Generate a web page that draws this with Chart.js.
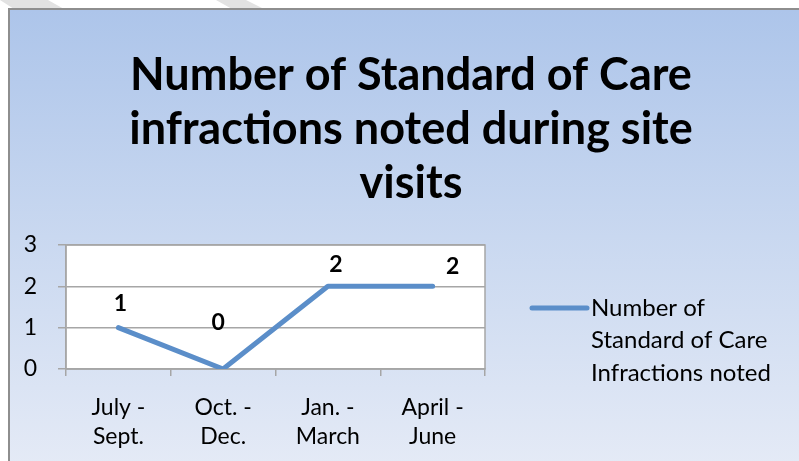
<!DOCTYPE html>
<html>
<head>
<meta charset="utf-8">
<script src="https://cdn.jsdelivr.net/npm/chart.js@4/dist/chart.umd.min.js"></script>
<style>
  body { margin: 0; background: #fff; overflow: hidden; }
  .streak { position: absolute; top: 0; height: 9px; background: #e2e2e2; }
  #box {
    position: absolute; left: 8px; top: 8px; width: 791px; height: 453px;
    border-left: 2px solid #8e8e8e; border-top: 2px solid #8e8e8e;
    background: linear-gradient(to bottom, #adc5ea 0%, #c9d8f0 50%, #e4eaf6 100%);
  }
  #chartCanvas { position: absolute; left: 0; top: 0; }
</style>
</head>
<body>
<div class="streak" style="left:0;width:64px;clip-path:polygon(0 0,48px 0,64px 100%,14px 100%);"></div>
<div class="streak" style="left:216px;width:48px;clip-path:polygon(0 0,30px 0,48px 100%,16px 100%);"></div>
<div id="box"><canvas id="chartCanvas" width="789" height="451"></canvas></div>
<script>
// data
const quarters = [["July -", "Sept."], ["Oct. -", "Dec."], ["Jan. -", "March"], ["April -", "June"]];
const infractions = [1, 0, 2, 2];
const yTicks = [0, 1, 2, 3];
const titleLines = ["Number of Standard of Care", "infractions noted during site", "visits"];
const seriesName = "Number of Standard of Care Infractions noted";
const legendLines = ["Number of", "Standard of Care", "Infractions noted"];

const lineColor = "#5b8ec9";
const fontFamily = "Lato, 'Open Sans', sans-serif";

// where each value label sits relative to its point (px)
const labelOffsets = [[2, -24], [-5, -46], [8, -22], [20, -20]];

// white plot area with a grey frame
const plotBackground = {
  id: "plotBackground",
  beforeDraw: (chart) => {
    const a = chart.chartArea;
    const ctx = chart.ctx;
    ctx.save();
    ctx.fillStyle = "#ffffff";
    ctx.fillRect(a.left, a.top, a.right - a.left, a.bottom - a.top);
    ctx.restore();
  },
  beforeDatasetsDraw: (chart) => {
    const a = chart.chartArea;
    const ctx = chart.ctx;
    ctx.save();
    ctx.strokeStyle = "#a6a6a6";
    ctx.lineWidth = 1.5;
    ctx.strokeRect(a.left, a.top, a.right - a.left, a.bottom - a.top);
    ctx.restore();
  },
};

// title centred on the whole box, not only the plot
const bigTitle = {
  id: "bigTitle",
  afterDraw: (chart) => {
    const ctx = chart.ctx;
    ctx.save();
    ctx.font = "bold 45px " + fontFamily;
    ctx.fillStyle = "#000";
    ctx.textAlign = "center";
    ctx.textBaseline = "middle";
    titleLines.forEach((t, i) => ctx.fillText(t, 401, 65 + i * 54));
    ctx.restore();
  },
};

// value labels above the points
const valueLabels = {
  id: "valueLabels",
  afterDatasetsDraw: (chart) => {
    const ctx = chart.ctx;
    const meta = chart.getDatasetMeta(0);
    ctx.save();
    ctx.font = "bold 23px " + fontFamily;
    ctx.fillStyle = "#000";
    ctx.textAlign = "center";
    ctx.textBaseline = "middle";
    meta.data.forEach((pt, i) => {
      const off = labelOffsets[i];
      ctx.fillText(String(chart.data.datasets[0].data[i]), pt.x + off[0], pt.y + off[1]);
    });
    ctx.restore();
  },
};

// legend on the right, text wrapped over three lines
const sideLegend = {
  id: "sideLegend",
  afterDraw: (chart) => {
    const ctx = chart.ctx;
    const x0 = chart.chartArea.right + 47;
    const y0 = 298;
    ctx.save();
    ctx.strokeStyle = lineColor;
    ctx.lineWidth = 5;
    ctx.lineCap = "round";
    ctx.beginPath();
    ctx.moveTo(x0, y0);
    ctx.lineTo(x0 + 55, y0);
    ctx.stroke();
    ctx.font = "24px " + fontFamily;
    ctx.fillStyle = "#000";
    ctx.textBaseline = "middle";
    legendLines.forEach((t, i) => ctx.fillText(t, x0 + 59, y0 + i * 32.5));
    ctx.restore();
  },
};

const ctx = document.getElementById("chartCanvas").getContext("2d");
const chart = new Chart(ctx, {
  type: "line",
  data: {
    labels: quarters,
    datasets: [{
      label: seriesName,
      data: infractions,
      borderColor: lineColor,
      backgroundColor: lineColor,
      borderWidth: 5,
      borderCapStyle: "round",
      borderJoinStyle: "round",
      pointRadius: 0,
      tension: 0,
    }],
  },
  options: {
    responsive: false,
    animation: false,
    layout: { padding: { left: 0, right: 314, top: 235, bottom: 0 } },
    plugins: {
      legend: { display: false },
      tooltip: { enabled: false },
      title: { display: false },
    },
    scales: {
      x: {
        offset: true,
        grid: { display: true, drawOnChartArea: false, drawTicks: true, tickLength: 7, color: "#a6a6a6", lineWidth: 1.5, offset: true },
        border: { display: true, color: "#a6a6a6", width: 1.5 },
        ticks: { color: "#000", font: { family: fontFamily, size: 23, lineHeight: 1.26 }, padding: 17, maxRotation: 0, autoSkip: false },
        afterFit: (scale) => { scale.height = 92; },
      },
      y: {
        min: 0,
        max: 3,
        afterBuildTicks: (scale) => { scale.ticks = yTicks.map((v) => ({ value: v })); },
        grid: { color: "#a6a6a6", lineWidth: 1.5, tickLength: 8 },
        border: { display: true, color: "#a6a6a6", width: 1.5 },
        ticks: { color: "#000", font: { family: fontFamily, size: 23 }, padding: 21 },
        afterFit: (scale) => { scale.width = 56; },
      },
    },
  },
  plugins: [plotBackground, bigTitle, valueLabels, sideLegend],
});
</script>
</body>
</html>
